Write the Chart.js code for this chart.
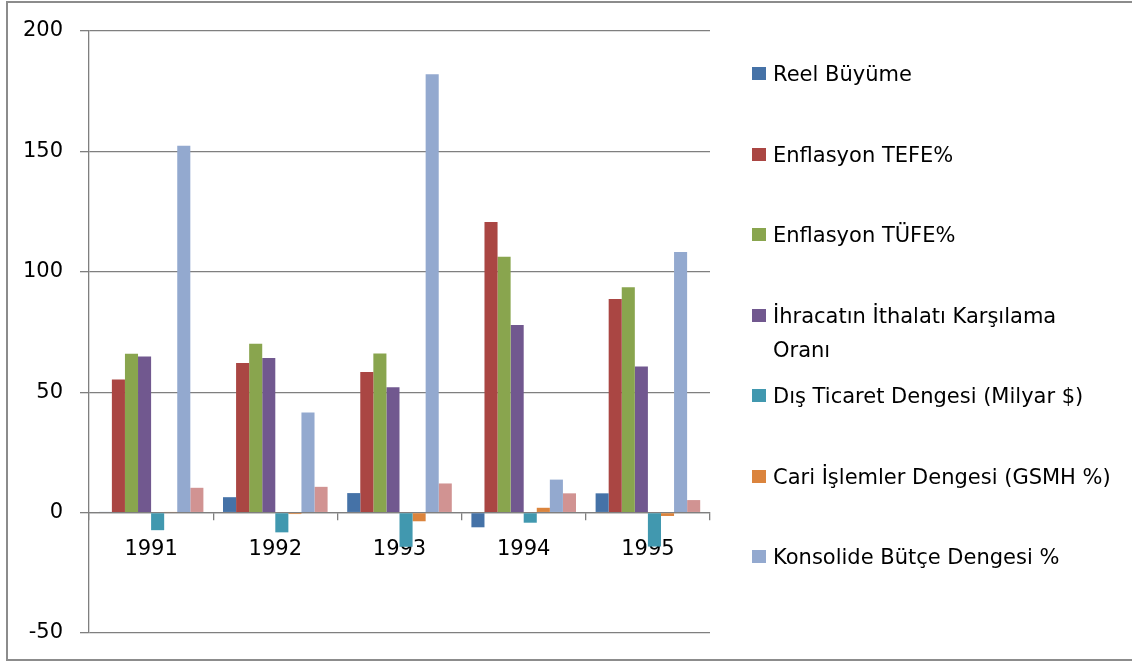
<!DOCTYPE html>
<html>
<head>
<meta charset="utf-8">
<script src="https://cdn.jsdelivr.net/npm/chart.js@4.4.1/dist/chart.umd.min.js"></script>
<style>
  html, body { margin: 0; padding: 0; background: #fff; overflow: hidden; }
  #wrap { position: relative; width: 1132px; height: 663px; overflow: hidden; font-family: "DejaVu Sans", sans-serif; }
  #frame { position: absolute; left: 6px; top: 1px; width: 1126px; height: 660px; border: 2px solid #8c8c8c; border-right: none; box-sizing: border-box; pointer-events: none; }
  #legend { position: absolute; left: 0; top: 0; width: 1132px; height: 663px; }
  .item { position: absolute; left: 752px; width: 375px; display: flex; align-items: flex-start; font-size: 21px; line-height: 34px; color: #000; }
  .sw { width: 14px; height: 13px; margin-top: 10px; flex: 0 0 14px; }
  .tx { margin-left: 7px; width: 344px; }
</style>
</head>
<body>
<div id="wrap">
  <canvas id="c"></canvas>
  <div id="legend"></div>
  <div id="frame"></div>
</div>
<script>
const categories = ['1991', '1992', '1993', '1994', '1995'];
const reelBuyume = [0.3, 6.4, 8.1, -6.1, 8.0];
const enflasyonTefe = [55.3, 62.1, 58.4, 120.7, 88.7];
const enflasyonTufe = [66.0, 70.1, 66.1, 106.3, 93.6];
const ihracatIthalat = [64.8, 64.2, 52.1, 77.9, 60.7];
const disTicaret = [-7.3, -8.2, -14.2, -4.2, -14.1];
const cariIslemler = [0.2, -0.6, -3.6, 2.0, -1.4];
const konsolideButce = [152.3, 41.6, 182.0, 13.7, 108.2];
const unlabeledSeries = [10.3, 10.7, 12.1, 8.0, 5.2];
const seriesLabels = ['Reel Büyüme', 'Enflasyon TEFE%', 'Enflasyon TÜFE%', 'İhracatın İthalatı Karşılama Oranı', 'Dış Ticaret Dengesi (Milyar $)', 'Cari İşlemler Dengesi (GSMH %)', 'Konsolide Bütçe Dengesi %', ''];
const yTicks = [-50, 0, 50, 100, 150, 200];

const seriesData = [reelBuyume, enflasyonTefe, enflasyonTufe, ihracatIthalat, disTicaret, cariIslemler, konsolideButce, unlabeledSeries];
const colors = ['#4572A7', '#AA4643', '#89A54E', '#71588F', '#4198AF', '#DB843D', '#93A9CF', '#D19392'];

const datasets = seriesData.map((d, i) => ({
  label: seriesLabels[i],
  data: d,
  backgroundColor: colors[i],
  borderWidth: 0,
  categoryPercentage: 8 / 9.5,
  barPercentage: 1
}));

const gridColor = '#7f7f7f';

new Chart(document.getElementById('c'), {
  type: 'bar',
  data: { labels: categories, datasets },
  options: {
    responsive: true,
    maintainAspectRatio: false,
    animation: false,
    layout: { padding: { left: 23, right: 422, top: 31, bottom: 30 } },
    plugins: { legend: { display: false }, tooltip: { enabled: false } },
    scales: {
      x: {
        position: { y: 0 },
        grid: { display: true, drawOnChartArea: false, drawTicks: true, tickLength: 7, color: gridColor, lineWidth: 1.3, offset: true },
        border: { display: true, color: gridColor, width: 1.3 },
        ticks: { color: '#000', font: { family: 'DejaVu Sans', size: 21 }, padding: 17, maxRotation: 0 }
      },
      y: {
        min: -50, max: 200,
        afterFit: (s) => { s.width = 66; },
        afterBuildTicks: (s) => { s.ticks = yTicks.map(v => ({ value: v })); },
        grid: { color: gridColor, lineWidth: 1.3, tickLength: 9, drawTicks: true },
        border: { display: true, color: gridColor, width: 1.3 },
        ticks: { color: '#000', font: { family: 'DejaVu Sans', size: 21 }, padding: 17 }
      }
    }
  }
});

const legendEl = document.getElementById('legend');
seriesLabels.forEach((lab, i) => {
  if (!lab) return;
  const item = document.createElement('div');
  item.className = 'item';
  item.style.top = (74 + i * 80.5 - 17) + 'px';
  const sw = document.createElement('div');
  sw.className = 'sw';
  sw.style.background = colors[i];
  const tx = document.createElement('div');
  tx.className = 'tx';
  tx.textContent = lab;
  item.appendChild(sw);
  item.appendChild(tx);
  legendEl.appendChild(item);
});
</script>
</body>
</html>
